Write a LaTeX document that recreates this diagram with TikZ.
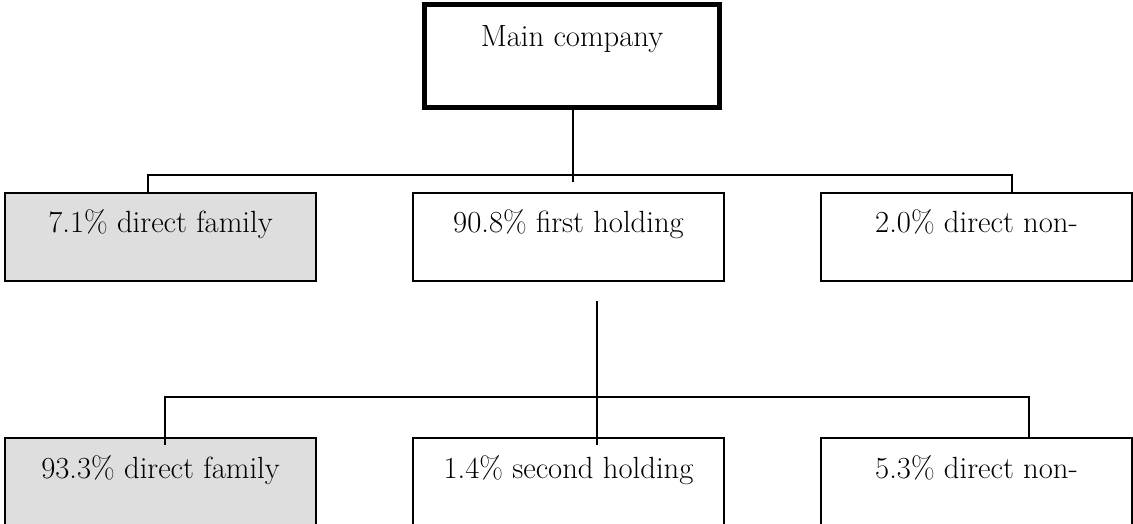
\documentclass[tikz,border=0pt]{standalone}
\definecolor{famgray}{RGB}{222,222,222}
\begin{document}
\begin{tikzpicture}[x=0.75pt,y=-0.75pt,
  txt/.style={font=\fontsize{23}{27}\selectfont, inner sep=0pt, text height=12pt},
  box/.style={txt, draw, line width=1.1pt, minimum width=233.25pt, minimum height=66pt, text depth=18pt},
  fambox/.style={box, fill=famgray},
  mainbox/.style={txt, draw, line width=3.8pt, minimum width=221.25pt, minimum height=77.25pt, text depth=25.5pt},
  conn/.style={line width=1.2pt}]
\useasboundingbox (0,0) rectangle (1133,524);
\clip (0,0) rectangle (1133,524);
% nodes
\node[mainbox] (main) at (572,56) {Main company};
\node[fambox] (f1) at (160.5,237) {7.1\% direct family};
\node[box] (h1) at (568.5,237) {90.8\% first holding};
\node[box] (n1) at (976.5,237) {2.0\% direct non-};
\node[fambox] (f2) at (160.5,482) {93.3\% direct family};
\node[box] (h2) at (568.5,482) {1.4\% second holding};
\node[box] (n2) at (976.5,482) {5.3\% direct non-};
% connector coordinates
\coordinate (t0) at (573,182);
\coordinate (tl) at (148,175);
\coordinate (tr) at (1012,175);
\coordinate (m0) at (597,301);
\coordinate (m1) at (597,445);
\coordinate (bl) at (165,397);
\coordinate (br) at (1029,397);
\coordinate (bl2) at (165,445);
% connectors
\draw[conn] (main.south -| t0) -- (t0);
\draw[conn] (f1.north -| tl) -- (tl) -- (tr) -- (n1.north -| tr);
\draw[conn] (m0) -- (m1);
\draw[conn] (bl2) -- (bl) -- (br) -- (n2.north -| br);
\end{tikzpicture}
\end{document}
